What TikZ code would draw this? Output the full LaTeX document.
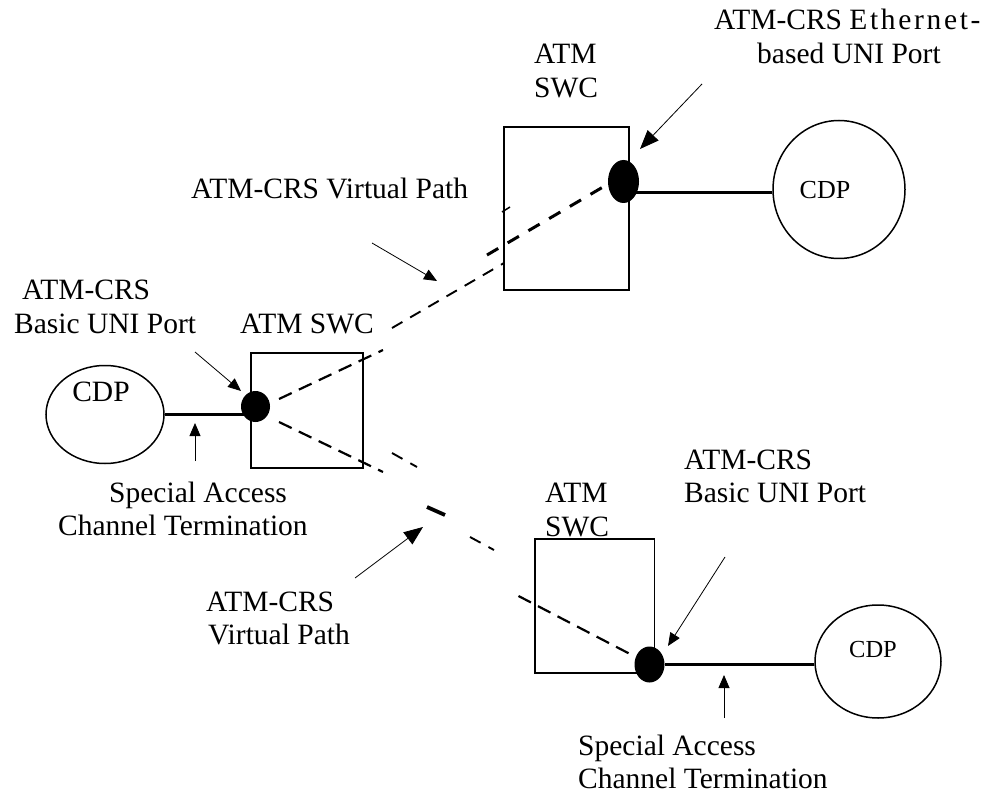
\documentclass[tikz,border=0pt]{standalone}
\usepackage{fontspec}
\setmainfont{Liberation Serif}
\usetikzlibrary{arrows.meta,shapes.geometric}
\tikzset{
  lbl/.style={anchor=base west,inner sep=0pt,font=\fontsize{29.5}{34}\selectfont},
  lblm/.style={anchor=base,inner sep=0pt,font=\fontsize{26}{30}\selectfont},
  lbls/.style={anchor=base,inner sep=0pt,font=\fontsize{24.5}{28}\selectfont},
  boxn/.style={draw,line width=1.5pt,inner sep=0pt,rectangle},
  oval/.style={draw,line width=1.5pt,ellipse,inner sep=0pt},
  blob/.style={fill=black,ellipse,inner sep=0pt},
  link/.style={line width=2.8pt},
  ptr/.style={line width=0.8pt,-{Triangle[length=13pt,width=11pt]}},
  ptrbig/.style={line width=0.8pt,-{Triangle[length=19pt,width=15pt]}},
  dmed/.style={line width=2.2pt,dash pattern=on 14pt off 8pt},
  dthin/.style={line width=1.9pt,dash pattern=on 12pt off 9pt},
  dthick/.style={line width=3pt,dash pattern=on 13pt off 11pt},
}
\begin{document}
\begin{tikzpicture}[x=1pt,y=-1pt]
\useasboundingbox (0,0) rectangle (993,794);
% boxes
\node[boxn,minimum width=112pt,minimum height=115pt] (swcL) at (307,410.5) {};
\node[boxn,minimum width=125pt,minimum height=163pt] (swcT) at (566.5,208.5) {};
\node[boxn,minimum width=119.5pt,minimum height=134pt] (swcB) at (594.7,606) {};
% ovals
\node[oval,minimum width=118pt,minimum height=98pt] (cdpL) at (105,414.5) {};
\node[oval,minimum width=132pt,minimum height=138pt] (cdpT) at (839,189.5) {};
\node[oval,minimum width=126pt,minimum height=113pt] (cdpB) at (878,661.5) {};
% ports
\node[blob,minimum width=29pt,minimum height=31pt] (dotL) at (255.5,406.5) {};
\node[blob,minimum width=31pt,minimum height=43pt] (dotT) at (623.5,181.5) {};
\node[blob,minimum width=30pt,minimum height=36pt] (dotB) at (649.5,664.5) {};
% labels
\node[lbl] (t1a) at (714,30) {ATM-CRS {\addfontfeature{LetterSpace=9}Ethernet-}};
\node[lbl] (t1b) at (757,64) {based UNI Port};
\node[lbl] (t2a) at (534,64) {ATM};
\node[lbl] (t2b) at (534,98) {SWC};
\node[lbl] (t3) at (191,199) {ATM-CRS Virtual Path};
\node[lblm] (t4) at (825,199) {CDP};
\node[lbl] (t5a) at (22,300) {ATM-CRS};
\node[lbl] (t5b) at (14,333) {Basic UNI Port};
\node[lbl] (t6) at (240,333) {ATM SWC};
\node[lbl,anchor=base] (t7) at (101,401) {CDP};
\node[lbl] (t8a) at (109,502) {Special Access};
\node[lbl] (t8b) at (58,535) {Channel Termination};
\node[lbl] (t9a) at (206,611) {ATM-CRS};
\node[lbl] (t9b) at (208,644) {Virtual Path};
\node[lbl] (t10a) at (684,469) {ATM-CRS};
\node[lbl] (t10b) at (684,502) {Basic UNI Port};
\node[lbl] (t11a) at (545,502) {ATM};
\node[lbl] (t11b) at (545,536) {SWC};
\node[lbls] (t12) at (873,657) {CDP};
\node[lbl] (t13a) at (578,755) {Special Access};
\node[lbl] (t13b) at (578,788) {Channel Termination};
% links
\draw[link] (cdpL.east) -- (cdpL.east -| dotL);
\draw[link] (dotT |- 0,192.7) -- (cdpT.west |- 0,192.7);
\draw[link] (dotB) -- (dotB -| cdpB.west);
% free ends
\coordinate (a1) at (195,352); \coordinate (a1t) at (241,391);
\coordinate (a2) at (195,461); \coordinate (a2t) at (195,423);
\coordinate (a3) at (372,243); \coordinate (a3t) at (437,281);
\coordinate (a4) at (702,84);  \coordinate (a4t) at (640,149);
\coordinate (a5) at (355,578); \coordinate (a5t) at (423,527);
\coordinate (a6) at (725,557); \coordinate (a6t) at (668,646);
\coordinate (a7) at (724,718); \coordinate (a7t) at (724,675);
\draw[ptr] (a1) -- (a1t);
\draw[ptr] (a2) -- (a2t);
\draw[ptr] (a3) -- (a3t);
\draw[ptrbig] (a4) -- (a4t);
\draw[ptrbig] (a5) -- (a5t);
\draw[ptr] (a6) -- (a6t);
\draw[ptr] (a7) -- (a7t);
% dashed virtual paths
\coordinate (p1) at (383,350); \coordinate (p2) at (392,328); \coordinate (p3) at (504,263);
\coordinate (p4) at (487,255); \coordinate (p5) at (603,187);
\coordinate (p6) at (502,212); \coordinate (p7) at (510,207);
\coordinate (q1) at (383,472); \coordinate (q2) at (392,453); \coordinate (q3) at (417,467);
\coordinate (q4) at (427,507); \coordinate (q5) at (445,515);
\coordinate (q6) at (470,537); \coordinate (q7) at (494,550);
\coordinate (q8) at (518.5,596); \coordinate (q9) at (630,654);
\coordinate (dL1) at (279,399); \coordinate (dL2) at (279,422);
\draw[dmed] (dL1) -- (p1);
\draw[dthin] (p2) -- (p3);
\draw[dthick] (p4) -- (p5);
\draw[line width=1.5pt] (p6) -- (p7);
\draw[dmed] (dL2) -- (q1);
\draw[dthin] (q2) -- (q3);
\draw[line width=3.8pt] (q4) -- (q5);
\draw[dthin] (q6) -- (q7);
\draw[dmed] (q8) -- (q9);
\end{tikzpicture}
\end{document}
